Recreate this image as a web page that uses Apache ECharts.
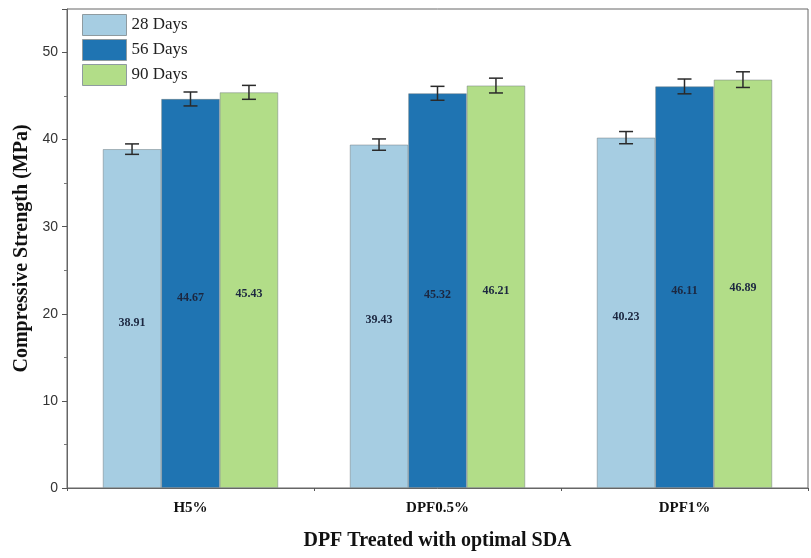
<!DOCTYPE html>
<html>
<head>
<meta charset="utf-8">
<script src="https://cdn.jsdelivr.net/npm/echarts@6/dist/echarts.min.js"></script>
<style>
  html, body { margin: 0; padding: 0; background: #fff; }
  #chart { width: 811px; height: 558px; }
</style>
</head>
<body>
<div id="chart"></div>
<script>
// Compressive strength of DPF mixes at three curing ages
const categories = ['H5%', 'DPF0.5%', 'DPF1%'];
const seriesNames = ['28 Days', '56 Days', '90 Days'];
const days28 = [38.91, 39.43, 40.23];
const days56 = [44.67, 45.32, 46.11];
const days90 = [45.43, 46.21, 46.89];
const err28 = [0.6, 0.65, 0.7];
const err56 = [0.8, 0.8, 0.85];
const err90 = [0.8, 0.85, 0.9];
const yTicks = [0, 10, 20, 30, 40, 50];

const colors = ['#a6cde2', '#1f74b2', '#b2dd88'];
const values = [days28, days56, days90];
const errors = [err28, err56, err90];
const catGap = 0.29;
const serif = '"Liberation Serif", "Times New Roman", serif';

const chart = echarts.init(document.getElementById('chart'));

const barSeries = seriesNames.map((name, i) => ({
  name: name,
  type: 'bar',
  xAxisIndex: 0,
  barGap: 0,
  barCategoryGap: (catGap * 100) + '%',
  data: values[i],
  itemStyle: { color: colors[i], borderColor: 'rgba(110,120,125,0.6)', borderWidth: 0.8 },
  label: {
    show: true,
    position: 'inside',
    formatter: p => p.value.toFixed(2),
    fontFamily: serif,
    fontWeight: 'bold',
    fontSize: 12,
    color: '#1c2740',
    offset: [0, 4]
  },
  z: 2
}));

// Error bars: one custom series per age, offset to sit over its bar
const errorSeries = seriesNames.map((name, i) => ({
  type: 'custom',
  xAxisIndex: 0,
  silent: true,
  z: 5,
  data: values[i].map((v, k) => [k, v, errors[i][k]]),
  renderItem: function (params, api) {
    const k = api.value(0), v = api.value(1), e = api.value(2);
    const band = api.size([1, 0])[0];
    const bw = band * (1 - catGap) / 3;
    const off = (i - 1) * bw;
    const top = api.coord([k, v + e]);
    const bot = api.coord([k, v - e]);
    const x = top[0] + off;
    const cap = 7;
    const style = { stroke: '#2a2a2a', lineWidth: 1.5, fill: null };
    return {
      type: 'group',
      children: [
        { type: 'line', shape: { x1: x, y1: top[1], x2: x, y2: bot[1] }, style: style },
        { type: 'line', shape: { x1: x - cap, y1: top[1], x2: x + cap, y2: top[1] }, style: style },
        { type: 'line', shape: { x1: x - cap, y1: bot[1], x2: x + cap, y2: bot[1] }, style: style }
      ]
    };
  }
}));

chart.setOption({
  animation: false,
  backgroundColor: '#fff',
  grid: {
    left: 67, right: 3, top: 9, bottom: 70,
    outerBoundsMode: 'none',
    containLabel: false,
    show: true, borderColor: '#666', borderWidth: 1
  },
  legend: {
    data: seriesNames,
    icon: 'rect',
    orient: 'vertical',
    left: 77, top: 9,
    itemWidth: 44, itemHeight: 21, itemGap: 3,
    itemStyle: { borderColor: '#8f9ba0', borderWidth: 1 },
    textStyle: { fontFamily: serif, fontSize: 17, color: '#222' }
  },
  xAxis: [
    {
      type: 'category',
      data: categories,
      name: 'DPF Treated with optimal SDA',
      nameLocation: 'middle',
      nameGap: 43,
      nameTextStyle: { fontFamily: serif, fontWeight: 'bold', fontSize: 20, color: '#111' },
      axisLine: { lineStyle: { color: '#666', width: 1 } },
      axisTick: { alignWithLabel: true, length: 5, lineStyle: { color: '#555' } },
      axisLabel: { margin: 13, fontFamily: serif, fontWeight: 'bold', fontSize: 15, color: '#111' }
    },
    {
      // boundary ticks between categories
      type: 'value',
      min: 0, max: 3, interval: 1,
      position: 'bottom',
      axisLine: { show: false },
      axisTick: { show: true, length: 3, lineStyle: { color: '#555' } },
      axisLabel: { show: false },
      splitLine: { show: false }
    }
  ],
  yAxis: {
    type: 'value',
    min: 0, max: 55, interval: 10,
    name: 'Compressive Strength (MPa)',
    nameLocation: 'middle',
    nameGap: 34,
    nameTextStyle: { fontFamily: serif, fontWeight: 'bold', fontSize: 20, color: '#111' },
    axisLine: { show: true, lineStyle: { color: '#666', width: 1 } },
    axisTick: { show: true, length: 5, lineStyle: { color: '#555' } },
    minorTick: { show: true, splitNumber: 2, length: 3, lineStyle: { color: '#777' } },
    splitLine: { show: false },
    axisLabel: {
      margin: 9,
      fontFamily: '"Liberation Sans", Arial, sans-serif',
      fontSize: 14,
      color: '#333',
      formatter: v => (yTicks.indexOf(v) >= 0 ? String(v) : '')
    }
  },
  series: barSeries.concat(errorSeries)
});
</script>
</body>
</html>
